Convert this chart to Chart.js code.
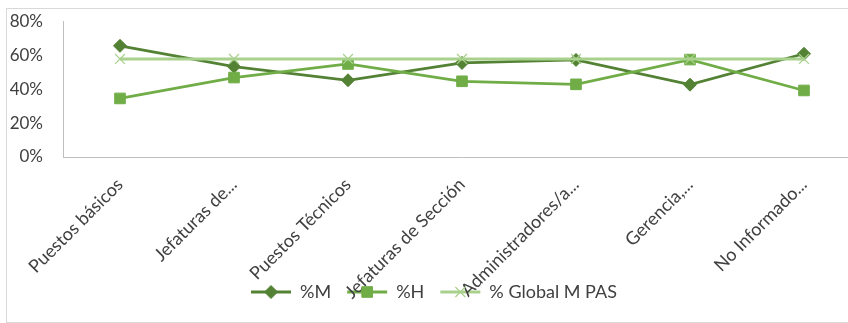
<!DOCTYPE html>
<html>
<head>
<meta charset="utf-8">
<script src="https://cdn.jsdelivr.net/npm/chart.js@4.4.1/dist/chart.umd.min.js"></script>
<style>
    html, body { margin: 0; padding: 0; background: #fff; overflow: hidden; width: 848px; height: 323px; }
    #box { position: absolute; left: 6px; top: 8px; width: 866px; height: 313px; border: 1px solid #d9d9d9; }
    #myChart { display: block; }
</style>
</head>
<body>
<div id="box"><canvas id="myChart" width="866" height="313"></canvas></div>
<script>
const categories = ['Puestos básicos', 'Jefaturas de...', 'Puestos Técnicos', 'Jefaturas de Sección',
    'Administradores/a...', 'Gerencia,...', 'No Informado...'];
const womenPct = [65.5, 53.2, 45.2, 55.4, 57.2, 42.6, 60.8];
const menPct = [34.5, 46.8, 54.8, 44.6, 42.8, 57.4, 39.2];
const globalPct = [57.8, 57.8, 57.8, 57.8, 57.8, 57.8, 57.8];
const yTickValues = [0, 20, 40, 60, 80];

const textColor = '#404040';
const fontFamily = 'Lato, "Noto Sans", sans-serif';

// draws the marker on top of each legend line, like Excel does
const legendMarkers = {
    id: 'legendMarkers',
    afterDraw(chart) {
        const legend = chart.legend;
        if (!legend || !legend.legendHitBoxes) {
            return;
        }
        const ctx = chart.ctx;
        const boxWidth = legend.options.labels.boxWidth;
        legend.legendHitBoxes.forEach((hb, i) => {
            const ds = chart.data.datasets[legend.legendItems[i].datasetIndex];
            ctx.save();
            ctx.fillStyle = ds.pointBackgroundColor;
            ctx.strokeStyle = ds.pointBorderColor;
            ctx.lineWidth = ds.pointBorderWidth;
            Chart.helpers.drawPoint(ctx, {
                pointStyle: ds.pointStyle,
                radius: ds.pointRadius,
                rotation: 0,
                borderWidth: ds.pointBorderWidth
            }, hb.left + boxWidth / 2, hb.top + hb.height / 2);
            ctx.restore();
        });
    }
};

const getChart = document.getElementById('myChart');

new Chart(getChart, {
    type: 'line',
    data: {
        labels: categories,
        datasets: [{
            label: '%M',
            data: womenPct,
            borderColor: '#548235',
            backgroundColor: '#548235',
            borderWidth: 2.75,
            pointStyle: 'rectRot',
            pointRadius: 6.5,
            pointBackgroundColor: '#548235',
            pointBorderColor: '#548235',
            pointBorderWidth: 1,
            order: 3
        }, {
            label: '%H',
            data: menPct,
            borderColor: '#70AD47',
            backgroundColor: '#70AD47',
            borderWidth: 2.75,
            pointStyle: 'rect',
            pointRadius: 7.5,
            pointBackgroundColor: '#70AD47',
            pointBorderColor: '#70AD47',
            pointBorderWidth: 1,
            order: 2
        }, {
            label: '% Global M PAS',
            data: globalPct,
            borderColor: '#A9D18E',
            backgroundColor: '#A9D18E',
            borderWidth: 3,
            pointStyle: 'crossRot',
            pointRadius: 7,
            pointBackgroundColor: '#A9D18E',
            pointBorderColor: '#A9D18E',
            pointBorderWidth: 1.25,
            order: 1
        }]
    },
    options: {
        responsive: false,
        animation: false,
        events: [],
        layout: {
            padding: { left: 0, right: 12, top: 12, bottom: 11 }
        },
        scales: {
            x: {
                offset: true,
                grid: { display: false, drawTicks: false },
                border: { display: true, color: '#bfbfbf', width: 1 },
                ticks: {
                    autoSkip: false,
                    minRotation: 45,
                    maxRotation: 45,
                    padding: 17,
                    color: textColor,
                    font: { family: fontFamily, size: 18 }
                },
                afterFit(scale) {
                    scale.height = 110;
                    // let the long labels run under the legend like in Excel (no clipping)
                    scale._computeLabelArea = () => undefined;
                }
            },
            y: {
                min: 0,
                max: 80,
                // tick marks are hidden but their length keeps the labels away from the axis
                grid: { display: false, drawTicks: true, tickLength: 18 },
                border: { display: true, color: '#bfbfbf', width: 1 },
                afterBuildTicks(scale) {
                    scale.ticks = yTickValues.map(v => ({ value: v }));
                },
                ticks: {
                    padding: 2,
                    color: textColor,
                    font: { family: fontFamily, size: 17 },
                    callback: (v) => v + '%'
                },
                afterFit(scale) {
                    scale.width = 56;
                }
            }
        },
        plugins: {
            tooltip: { enabled: false },
            legend: {
                position: 'bottom',
                labels: {
                    boxWidth: 40,
                    boxHeight: 3,
                    padding: 16,
                    color: textColor,
                    font: { family: fontFamily, size: 18 },
                    sort: (a, b) => a.datasetIndex - b.datasetIndex,
                    generateLabels(chart) {
                        const items = Chart.defaults.plugins.legend.labels.generateLabels(chart);
                        items.forEach(it => {
                            it.fillStyle = it.strokeStyle;
                            it.lineWidth = 0;
                        });
                        return items;
                    }
                }
            }
        }
    },
    plugins: [legendMarkers]
});
</script>
</body>
</html>
